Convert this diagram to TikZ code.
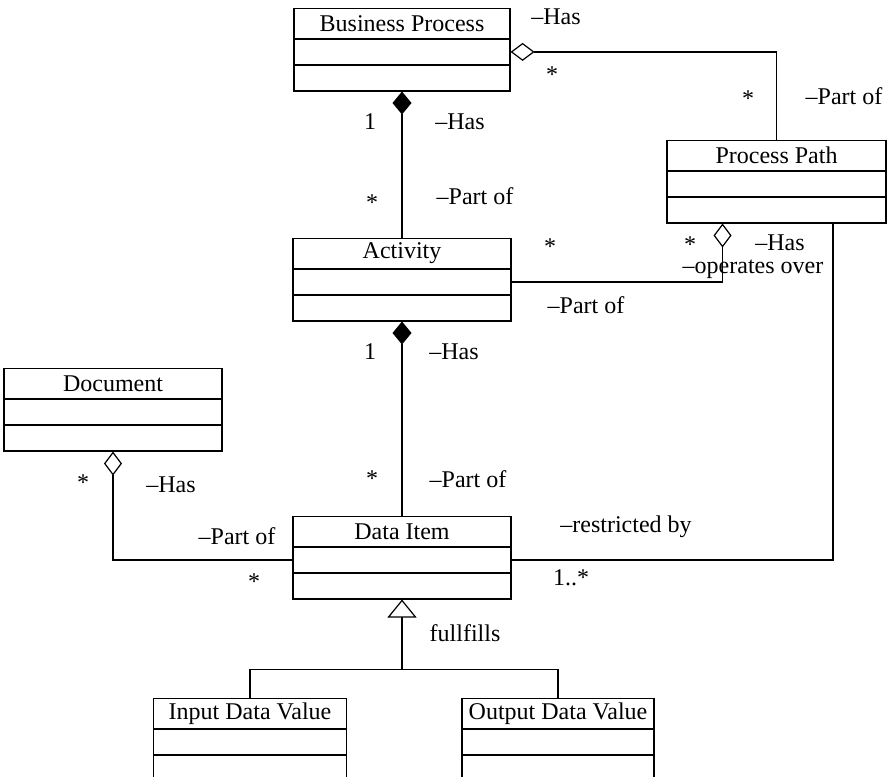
\documentclass[tikz,border=0pt]{standalone}
\usepackage{fontspec}
\setmainfont{Liberation Serif}
\usetikzlibrary{arrows.meta, positioning, calc}

\begin{document}
\begin{tikzpicture}[
    x=0.5pt, y=-0.5pt,
    cls/.style  = {draw, line width=0.6pt, inner sep=0pt, minimum height=14.75pt,
                   font=\fontsize{12}{14}\selectfont},
    slot/.style = {draw, line width=0.6pt, inner sep=0pt, minimum height=12.6pt},
    lbl/.style  = {inner sep=0pt, font=\fontsize{12}{14}\selectfont},
    link/.style = {line width=0.6pt},
    agg/.style  = {link, {Diamond[open, length=12pt, width=9pt, fill=white]}-},
    comp/.style = {link, {Diamond[length=11.5pt, width=9.5pt]}-},
    real/.style = {link, -{Triangle[open, length=9pt, width=14.5pt]}}
  ]
  \useasboundingbox (0,0) rectangle (887,776);

  % ----------------------------------------------------------------
  % Classes: title box + two empty compartments (name, name-a, name-b)
  % ----------------------------------------------------------------
  \foreach \nm/\xx/\yy/\ww/\ttl in {
      bp/402/8/108pt/{Business Process},
      pp/776.5/140/109.5pt/{Process Path},
      act/402/238/109pt/{Activity},
      doc/113/368/109pt/{Document},
      di/402/516/109pt/{Data Item},
      inp/250/698/96.5pt/{Input Data Value},
      outp/558/698/96pt/{Output Data Value}}{
    \node[cls, minimum width=\ww, anchor=north] (\nm) at (\xx, \yy) {\ttl};
    \node[slot, minimum width=\ww, anchor=north] (\nm-a) at (\nm.south) {};
    \node[slot, minimum width=\ww, anchor=north] (\nm-b) at (\nm-a.south) {};
  }

  % Free ends under Process Path and the generalization joint
  \coordinate (ppl) at ([xshift=-27pt]pp-b.south);
  \coordinate (ppr) at ([xshift=28.25pt]pp-b.south);
  \coordinate (gen) at ([yshift=-35pt]di-b.south);

  % ----------------------------------------------------------------
  % Associations
  % ----------------------------------------------------------------
  \draw[agg]  (bp-a.east) -| (pp.north);
  \draw[comp] (bp-b.south) -- (act.north);
  \draw[agg]  (ppl) |- (act-a.east);
  \draw[comp] (act-b.south) -- (di.north);
  \draw[agg]  (doc-b.south) |- (di-a.west);
  \draw[link] (ppr) |- (di-a.east);

  % Realization: both values fulfil the data item
  \draw[real] (gen) -- (di-b.south);
  \draw[link] (inp.north) |- (gen) -| (outp.north);

  % ----------------------------------------------------------------
  % Role names and multiplicities
  % ----------------------------------------------------------------
  \foreach \xx/\yy/\txt [count=\k] in {
      556/17/{–Has}, 552/75/{*}, 748/99/{*}, 844/96/{–Part of},
      370/122/{1}, 460/122/{–Has}, 372/203/{*}, 475/196/{–Part of},
      550/247/{*}, 690/245/{*}, 780/243/{–Has}, 753/269/{–operates over},
      586/305/{–Part of},
      370/352/{1}, 454/352/{–Has}, 372/479/{*}, 468/479/{–Part of},
      83/483/{*}, 171/485/{–Has}, 237/536/{–Part of},
      626/527/{–restricted by}, 254/582/{*}, 571/578/{1..*},
      465/633/{fullfills}}{
    \node[lbl] (l\k) at (\xx, \yy) {\txt};
  }

\end{tikzpicture}
\end{document}
